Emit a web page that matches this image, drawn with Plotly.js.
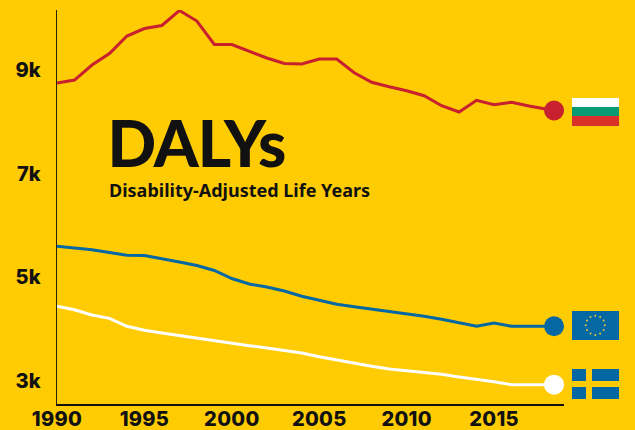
<!DOCTYPE html>
<html>
<head>
<meta charset="utf-8">
<script src="https://cdn.plot.ly/plotly-3.0.1.min.js"></script>
<style>html,body{margin:0;padding:0;background:#FFCC03;}
.annotation[data-index="0"] text{letter-spacing:-1px;}
.xtick text{letter-spacing:0.3px;}</style>
</head>
<body>
<div id="chart" style="width:635px;height:430px;"></div>
<script>
const years = [1990,1991,1992,1993,1994,1995,1996,1997,1998,1999,2000,2001,2002,2003,2004,2005,2006,2007,2008,2009,2010,2011,2012,2013,2014,2015,2016,2017,2018,2018.43];
const bulgaria = [8748,8806,9096,9318,9655,9800,9858,10147,9944,9491,9491,9356,9231,9125,9115,9211,9211,8947,8762,8677,8600,8503,8311,8189,8415,8330,8376,8305,8253,8218];
const eu = [5598,5569,5533,5479,5425,5421,5363,5296,5228,5132,4977,4871,4813,4736,4634,4557,4480,4433,4389,4350,4298,4248,4190,4125,4055,4119,4055,4055,4055,4055];
const sweden = [4441,4375,4273,4209,4055,3978,3926,3874,3824,3777,3727,3681,3637,3584,3540,3469,3405,3341,3284,3231,3199,3168,3129,3077,3033,2986,2929,2929,2929,2929];
const yTicks = [3000,5000,7000,9000];
const yLabels = ['3k','5k','7k','9k'];
const xTicks = [1990,1995,2000,2005,2010,2015];
const xLabels = ['1990','1995','2000','2005','2010','2015'];
const titleText = 'DALYs';
const subtitleText = 'Disability-Adjusted Life Years';

const W = 635, H = 430, L = 57, R = 71, T = 10, B = 26;
const fx = px => (px - L) / (W - L - R);
const fy = py => 1 - (py - T) / (H - T - B);
const rect = (x0, y0, x1, y1, color) => ({type:'rect', xref:'paper', yref:'paper', x0:fx(x0), x1:fx(x1), y0:fy(y0), y1:fy(y1), fillcolor:color, line:{width:0}, layer:'above'});

const RED = '#C8202F', BLUE = '#0568A3', WHITE = '#FFFFFF', BG = '#FFCC03';
const series = [[bulgaria, RED],[eu, BLUE],[sweden, WHITE]];
const traces = [];
series.forEach(([v, c]) => {
  traces.push({x:years, y:v, mode:'lines', line:{color:c, width:3}, hoverinfo:'skip', showlegend:false, cliponaxis:false});
});
series.forEach(([v, c]) => {
  traces.push({x:[years[years.length-1]], y:[v[v.length-1]], mode:'markers', marker:{color:c, size:20, line:{width:0}}, hoverinfo:'skip', showlegend:false, cliponaxis:false});
});

const shapes = [
  rect(572,98,619,107,'#FFFFFF'), rect(572,107,619,116,'#0A9A73'), rect(572,116,619,126,'#D9312A'),
  rect(572,311,619,340,BLUE),
  rect(572,369,586,381,BLUE), rect(592,369,619,381,BLUE), rect(572,387,586,399,BLUE), rect(592,387,619,399,BLUE)
];
for (let i = 0; i < 12; i++) {
  const a = i * Math.PI / 6, cx = 595.3 + 9.6 * Math.sin(a), cy = 325.3 - 9.6 * Math.cos(a), r = 1;
  shapes.push({type:'circle', xref:'paper', yref:'paper', x0:fx(cx-r), x1:fx(cx+r), y0:fy(cy-r), y1:fy(cy+r), fillcolor:'#E3C93A', line:{width:0}, layer:'above'});
}

const layout = {
  width:W, height:H, paper_bgcolor:BG, plot_bgcolor:BG,
  margin:{l:L, r:R, t:T, b:B, pad:0}, showlegend:false,
  xaxis:{range:[1990,2019], tickvals:xTicks, ticktext:xLabels, ticks:'', showgrid:false, zeroline:false,
    showline:true, linecolor:'#111111', linewidth:2, ticklabelstandoff:-4, tickfont:{family:'Inter', size:20, color:'#111111', weight:800}},
  yaxis:{range:[2556,10157], tickvals:yTicks, ticktext:yLabels, ticks:'', showgrid:false, zeroline:false,
    showline:true, linecolor:'#222211', linewidth:1.5, ticklabelstandoff:11, tickfont:{family:'Inter', size:20, color:'#111111', weight:800}},
  shapes:shapes,
  annotations:[
    {text:titleText, xref:'paper', yref:'paper', x:fx(103), y:fy(142), xanchor:'left', yanchor:'middle', showarrow:false,
      font:{family:'Lato', size:64, color:'#111111', weight:900}},
    {text:subtitleText, xref:'paper', yref:'paper', x:fx(107), y:fy(190), xanchor:'left', yanchor:'middle', showarrow:false,
      font:{family:'"Noto Sans"', size:18, color:'#111111', weight:700}}
  ]
};
Plotly.newPlot('chart', traces, layout, {displayModeBar:false, staticPlot:true});
</script>
</body>
</html>
